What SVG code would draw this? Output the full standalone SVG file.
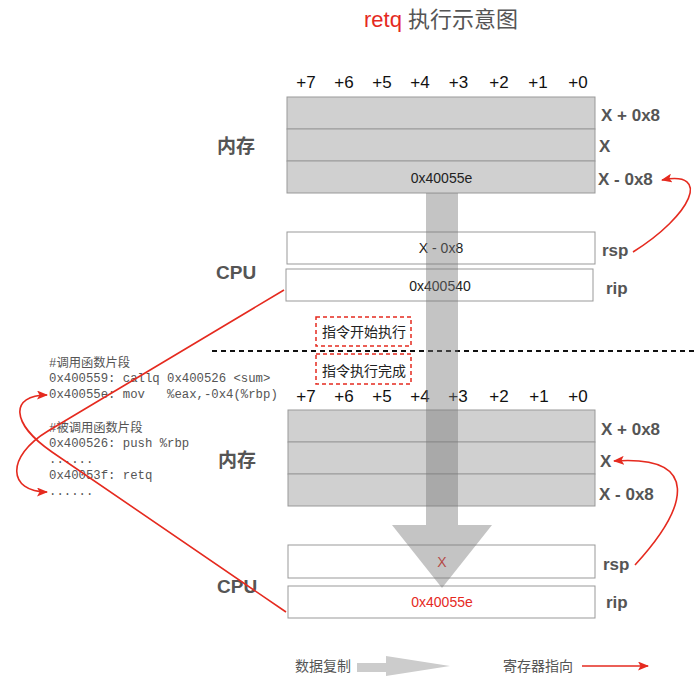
<svg xmlns="http://www.w3.org/2000/svg" width="698" height="684" viewBox="0 0 698 684">
<style>
text{font-family:"Liberation Sans","Noto Sans CJK SC",sans-serif;}
.col{font-size:17px;fill:#111;text-anchor:middle;}
.addr{font-size:17px;font-weight:bold;fill:#555;}
.big{font-size:19px;font-weight:bold;fill:#555;}
.mem{fill:#d0d0d0;stroke:#999;stroke-width:1;}
.reg{fill:#fff;stroke:#999;stroke-width:1;}
.val{font-size:14px;fill:#222;text-anchor:middle;}
.code{font-family:"Liberation Mono","Noto Sans CJK SC",monospace;font-size:12.3px;fill:#555;white-space:pre;}
.tag{font-size:14px;fill:#222;}
.dbox{fill:none;stroke:#e52a1f;stroke-width:1.5;stroke-dasharray:4,3;}
.rl{fill:none;stroke:#e52a1f;stroke-width:1.6;}
.leg{font-size:14px;fill:#555;}
</style>
<defs>
<marker id="ah" markerWidth="11" markerHeight="9" refX="10" refY="4.5" orient="auto" markerUnits="userSpaceOnUse">
<path d="M0,0 L11,4.5 L0,9 L2.5,4.5 z" fill="#e52a1f"/>
</marker>
</defs>
<g id="title">
<text x="364" y="27" font-size="22" fill="#e52a1f">retq <tspan fill="#555">执行示意图</tspan></text>
</g>
<g id="cols-top">
<text class="col" x="306" y="88">+7</text><text class="col" x="344" y="88">+6</text><text class="col" x="382" y="88">+5</text><text class="col" x="420" y="88">+4</text><text class="col" x="458.5" y="88">+3</text><text class="col" x="499" y="88">+2</text><text class="col" x="538" y="88">+1</text><text class="col" x="578" y="88">+0</text>
</g>
<g id="mem-top">
<rect class="mem" x="287" y="97" width="308" height="32"/>
<rect class="mem" x="287" y="129" width="308" height="32"/>
<rect class="mem" x="287" y="161" width="308" height="32"/>
<text class="val" x="441.5" y="183">0x40055e</text>
<text class="big" x="217" y="153">内存</text>
<text class="addr" x="601" y="121">X + 0x8</text>
<text class="addr" x="599" y="152">X</text>
<text class="addr" x="598" y="185">X - 0x8</text>
</g>
<g id="cpu-top">
<rect class="reg" x="287" y="232" width="308" height="32"/>
<rect class="reg" x="286" y="269" width="307" height="32"/>
<text class="val" x="441" y="253">X - 0x8</text>
<text class="val" x="440" y="291">0x400540</text>
<text class="big" x="216" y="279">CPU</text>
<text class="addr" x="602" y="256">rsp</text>
<text class="addr" x="606" y="294">rip</text>
</g>
<g id="tag-start">
<rect class="dbox" x="316" y="317" width="95" height="29"/>
<text class="tag" x="322" y="337">指令开始执行</text>
</g>
<line x1="212" y1="351" x2="698" y2="351" stroke="#111" stroke-width="2" stroke-dasharray="5,4"/>
<g id="tag-end">
<rect class="dbox" x="316" y="354" width="95" height="30"/>
<text class="tag" x="322" y="376">指令执行完成</text>
</g>
<g id="code">
<text class="code" x="49" y="367">#调用函数片段</text>
<text class="code" x="49" y="382">0x400559: callq 0x400526 &lt;sum&gt;</text>
<text class="code" x="49" y="398">0x40055e: mov   %eax,-0x4(%rbp)</text>
<text class="code" x="49" y="432">#被调用函数片段</text>
<text class="code" x="49" y="447">0x400526: push %rbp</text>
<text class="code" x="49" y="463">......</text>
<text class="code" x="49" y="479">0x40053f: retq</text>
<text class="code" x="49" y="495">......</text>
</g>
<g id="cols-bottom">
<text class="col" x="306" y="402">+7</text><text class="col" x="344" y="402">+6</text><text class="col" x="382" y="402">+5</text><text class="col" x="420" y="402">+4</text><text class="col" x="458" y="402">+3</text><text class="col" x="499" y="402">+2</text><text class="col" x="539" y="402">+1</text><text class="col" x="578" y="402">+0</text>
</g>
<g id="mem-bottom">
<rect class="mem" x="288" y="410" width="307" height="32"/>
<rect class="mem" x="288" y="442" width="307" height="32"/>
<rect class="mem" x="288" y="474" width="307" height="32"/>
<text class="big" x="218" y="467">内存</text>
<text class="addr" x="601" y="435">X + 0x8</text>
<text class="addr" x="600" y="467">X</text>
<text class="addr" x="599" y="500">X - 0x8</text>
</g>
<g id="cpu-bottom">
<rect class="reg" x="288" y="545" width="307" height="33"/>
<rect class="reg" x="288" y="586" width="307" height="32"/>
<text class="val" x="442" y="567" style="fill:#e52a1f">X</text>
<text class="val" x="442" y="607" style="fill:#e52a1f">0x40055e</text>
<text class="big" x="217" y="593">CPU</text>
<text class="addr" x="603" y="570">rsp</text>
<text class="addr" x="606" y="608">rip</text>
</g>
<g id="copy-arrow">
<path d="M426,193 H458 V525 H492 L442,588 L392,525 H426 Z" fill="#777" fill-opacity="0.43"/>
</g>
<g id="connectors">
<path class="rl" d="M633,252 C692,215 712,170 662,180" marker-end="url(#ah)"/>
<path class="rl" d="M635,565 C690,505 700,455 614,461" marker-end="url(#ah)"/>
<path class="rl" d="M284,290 L48,431 C5,457 8,492 47,492" marker-end="url(#ah)"/>
<path class="rl" d="M286,612 L52,452 C10,423 10,395 47,395" marker-end="url(#ah)"/>
</g>
<g id="legend">
<text class="leg" x="295" y="671">数据复制</text>
<path d="M357,663 H386 V656 L450,666 L386,676 V672 H357 Z" fill="#ccc"/>
<text class="leg" x="503" y="671">寄存器指向</text>
<line x1="582" y1="666" x2="648" y2="666" class="rl" marker-end="url(#ah)"/>
</g>
</svg>
